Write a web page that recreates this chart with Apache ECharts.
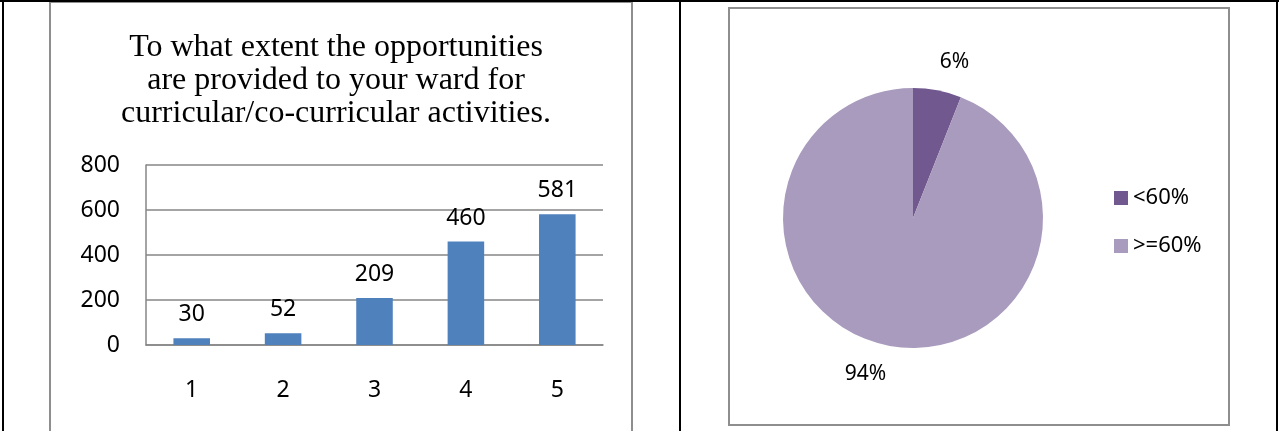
<!DOCTYPE html>
<html>
<head>
<meta charset="utf-8">
<script src="https://cdn.jsdelivr.net/npm/echarts@6/dist/echarts.min.js"></script>
<style>
  html, body { margin: 0; padding: 0; background: #fff; }
  #main { width: 1279px; height: 431px; }
</style>
</head>
<body>
<div id="main"></div>
<script>
var dom = document.getElementById('main');
var myChart = echarts.init(dom, null, { renderer: 'canvas' });

// bar chart data
var ratingCategories = ['1', '2', '3', '4', '5'];
var ratingCounts = [30, 52, 209, 460, 581];
var yTicks = { min: 0, max: 800, interval: 200 };

// pie chart data
var scoreGroups = ['<60%', '>=60%'];
var scoreShares = [6, 94];
var pieColors = ['#71588F', '#A99BBD'];

var sans = '"Noto Sans", "Open Sans", sans-serif';

var option = {
    animation: false,
    title: {
        text: 'To what extent the opportunities\nare provided to your ward for\ncurricular/co-curricular activities.',
        left: 336,
        top: 31,
        textAlign: 'center',
        padding: 0,
        textStyle: {
            fontFamily: '"Liberation Serif", "Times New Roman", serif',
            fontWeight: 'normal',
            fontSize: 32,
            lineHeight: 33,
            color: '#000'
        }
    },
    legend: {
        orient: 'vertical',
        left: 1109,
        top: 182,
        itemWidth: 14,
        itemHeight: 14,
        itemGap: 26,
        icon: 'rect',
        data: scoreGroups,
        textStyle: { fontFamily: sans, fontSize: 22, color: '#000' }
    },
    grid: {
        left: 146,
        right: 676,
        top: 165,
        bottom: 86
    },
    xAxis: {
        type: 'category',
        data: ratingCategories,
        axisTick: { show: false },
        axisLine: { lineStyle: { color: '#868686', width: 1.5 } },
        axisLabel: { margin: 34, fontFamily: sans, fontSize: 23, color: '#000' }
    },
    yAxis: {
        type: 'value',
        min: yTicks.min,
        max: yTicks.max,
        interval: yTicks.interval,
        axisLine: { show: true, lineStyle: { color: '#868686', width: 1.5 } },
        axisTick: { show: false },
        splitLine: { lineStyle: { color: '#868686', width: 1.5 } },
        axisLabel: { margin: 26, fontFamily: sans, fontSize: 23, color: '#000' }
    },
    series: [
        {
            type: 'bar',
            data: ratingCounts,
            barWidth: '40%',
            itemStyle: { color: '#4F81BD' },
            label: {
                show: true,
                position: 'top',
                distance: 12,
                fontFamily: sans,
                fontSize: 23,
                color: '#000'
            }
        },
        {
            type: 'pie',
            center: [913, 218],
            radius: 130,
            startAngle: 90,
            clockwise: true,
            color: pieColors,
            data: scoreGroups.map(function (name, i) {
                return { name: name, value: scoreShares[i] };
            }),
            itemStyle: { borderColor: '#fff', borderWidth: 0 },
            label: {
                show: true,
                position: 'outside',
                formatter: '{c}%',
                fontFamily: sans,
                fontSize: 21,
                color: '#000'
            },
            labelLine: { show: false, length: 29, length2: -8 },
            emphasis: { disabled: true }
        }
    ],
    graphic: [
        { type: 'rect', shape: { x: 50, y: 2, width: 582, height: 440 }, style: { fill: null, stroke: '#8e8e8e', lineWidth: 2 }, z: 10 },
        { type: 'rect', shape: { x: 729, y: 8, width: 500, height: 417 }, style: { fill: null, stroke: '#8e8e8e', lineWidth: 2 }, z: 10 },
        { type: 'line', shape: { x1: 0, y1: 1, x2: 1279, y2: 1 }, style: { stroke: '#000', lineWidth: 2 }, z: 11 },
        { type: 'line', shape: { x1: 3, y1: 0, x2: 3, y2: 431 }, style: { stroke: '#000', lineWidth: 2 }, z: 11 },
        { type: 'line', shape: { x1: 680, y1: 0, x2: 680, y2: 431 }, style: { stroke: '#000', lineWidth: 2 }, z: 11 },
        { type: 'line', shape: { x1: 1277, y1: 0, x2: 1277, y2: 431 }, style: { stroke: '#000', lineWidth: 2 }, z: 11 }
    ]
};

if (option && typeof option === 'object') {
    myChart.setOption(option);
}

window.addEventListener('resize', myChart.resize);
</script>
</body>
</html>
